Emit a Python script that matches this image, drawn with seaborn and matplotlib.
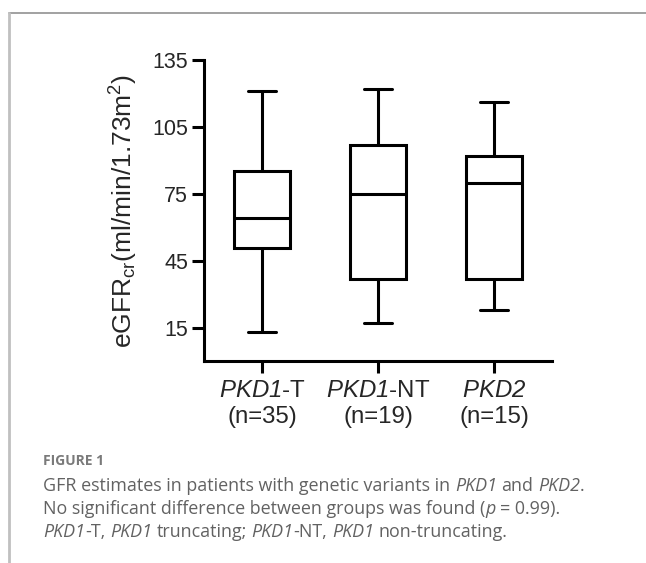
import matplotlib
matplotlib.use("Agg")
import matplotlib.pyplot as plt
import pandas as pd
import seaborn as sns
from matplotlib.lines import Line2D

# ---- data ----
groups = ["PKD1-T", "PKD1-NT", "PKD2"]
n_counts = [35, 19, 15]
mins = [13, 17, 23]
q1s = [50.5, 37, 37]
medians = [64, 75, 80]
q3s = [85, 97, 92]
maxs = [121, 122, 116]
y_ticks = [15, 45, 75, 105, 135]
tick_names = [r"$\mathrm{PKD1}$-T", r"$\mathrm{PKD1}$-NT", r"$\mathrm{PKD2}$"]

rows = []
for g, a, b, c, d, e in zip(groups, mins, q1s, medians, q3s, maxs):
    for v in (a, b, c, d, e):
        rows.append({"group": g, "eGFR": v})
df = pd.DataFrame(rows)

W, H = 646, 563
sns.set_theme(style="ticks")
plt.rcParams["font.family"] = ["Liberation Sans", "DejaVu Sans"]
plt.rcParams["mathtext.fontset"] = "custom"
plt.rcParams["mathtext.rm"] = "Liberation Sans:italic"
plt.rcParams["mathtext.it"] = "Liberation Sans:italic"
plt.rcParams["mathtext.bf"] = "Liberation Sans:bold"

fig = plt.figure(figsize=(W / 100, H / 100), dpi=100)
fig.patch.set_facecolor("white")
ax = fig.add_axes([204 / W, 1 - 361 / H, 348 / W, 301 / H])

sns.boxplot(data=df, x="group", y="eGFR", order=groups, whis=(0, 100),
            width=0.48, color="white", linecolor="black", linewidth=2.2,
            ax=ax)

ax.set_ylim(0, 135)
ax.set_xlim(-0.5, 2.5)
ax.set_yticks(y_ticks)
ax.set_yticklabels([str(t) for t in y_ticks])
ax.set_xticks(range(len(groups)))
ax.set_xticklabels([f"{nm}\n(n={n})" for nm, n in zip(tick_names, n_counts)])
for lab in ax.get_xticklabels():
    lab.set_linespacing(1.25)
ax.set_xlabel("")
ax.set_ylabel(r"eGFR$_{\mathregular{cr}}$(ml/min/1.73m$^{\mathregular{2}}$)",
              fontsize=19)
ax.yaxis.set_label_coords(-0.185, 0.5)
ax.set_facecolor("white")
for s in ("top", "right"):
    ax.spines[s].set_visible(False)
for s in ("left", "bottom"):
    ax.spines[s].set_linewidth(2.2)
    ax.spines[s].set_color("black")
ax.tick_params(axis="both", width=2.2, length=8.5, color="black", pad=3)
ax.tick_params(axis="y", labelsize=15.5)
ax.tick_params(axis="x", labelsize=17.3, pad=5)

# ---- frame lines ----
fig.add_artist(Line2D([9 / W, 1], [1 - 13 / H, 1 - 13 / H],
                      transform=fig.transFigure, color="#9a9a9a", lw=1.3))
fig.add_artist(Line2D([9 / W, 9 / W], [0, 1 - 13 / H],
                      transform=fig.transFigure, color="#c0c0c0", lw=2.0))

# ---- caption ----
cap_family = ["Open Sans", "DejaVu Sans"]
cap_color = "#626262"
cap_size = 12.9
fig.canvas.draw()
renderer = fig.canvas.get_renderer()


def text_width(s, style):
    t = fig.text(0, 0, s, fontsize=cap_size, family=cap_family, style=style)
    w = t.get_window_extent(renderer).width
    t.remove()
    return w


space_w = text_width("x x", "normal") - text_width("xx", "normal")


def draw_runs(x_px, y_px, runs):
    x = x_px
    for s, style in runs:
        lead = len(s) - len(s.lstrip(" "))
        x += lead * space_w
        core = s.strip(" ")
        t = fig.text(x / W, 1 - y_px / H, core, fontsize=cap_size,
                     family=cap_family, style=style, color=cap_color,
                     va="center", ha="left")
        x += t.get_window_extent(renderer).width
        trail = len(s) - len(s.rstrip(" "))
        x += trail * space_w


fig.text(43 / W, 1 - 461 / H, "FIGURE 1", fontsize=10.0, family=cap_family,
         weight="bold", color="#7a7a7a", va="center", ha="left")
draw_runs(43, 486, [("GFR estimates in patients with genetic variants in ", "normal"),
                    ("PKD1", "italic"), (" and ", "normal"),
                    ("PKD2", "italic"), (".", "normal")])
draw_runs(43, 509, [("No significant difference between groups was found (", "normal"),
                    ("p", "italic"), (" = 0.99).", "normal")])
draw_runs(43, 532, [("PKD1", "italic"), ("-T, ", "normal"), ("PKD1", "italic"),
                    (" truncating; ", "normal"), ("PKD1", "italic"),
                    ("-NT, ", "normal"), ("PKD1", "italic"),
                    (" non-truncating.", "normal")])

fig.savefig("out.png", dpi=100, facecolor="white")
